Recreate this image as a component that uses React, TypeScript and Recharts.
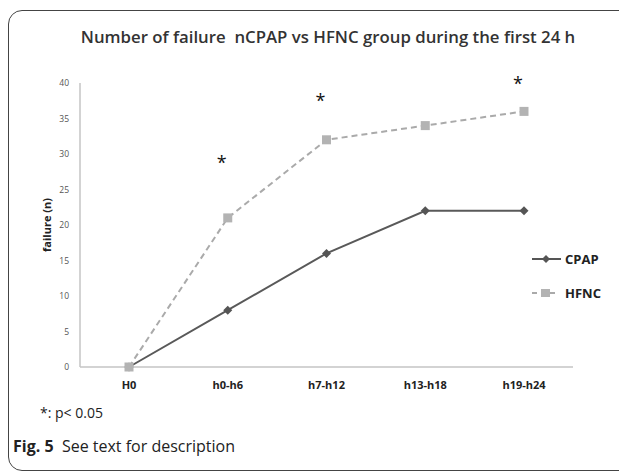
import React from 'react';
import { LineChart, Line, XAxis, YAxis } from 'recharts';

const periods = ['H0', 'h0-h6', 'h7-h12', 'h13-h18', 'h19-h24'];
const cpapFailures = [0, 8, 16, 22, 22];
const hfncFailures = [0, 21, 32, 34, 36];
// where the "*" (p < 0.05) marks sit, in axis units
const sigMarks: (number | null)[] = [null, 28.7, 37.5, null, 39.9];
const yTicks = [0, 5, 10, 15, 20, 25, 30, 35, 40];

const data = periods.map((p, i) => ({
  period: p,
  cpap: cpapFailures[i],
  hfnc: hfncFailures[i],
  sig: sigMarks[i],
}));

const FONT = '"Open Sans", "Liberation Sans", sans-serif';

const Diamond = (props: any) => {
  const { cx, cy, index } = props;
  if (cx == null || cy == null) return <g key={`d${index}`} />;
  const r = 4.5;
  return (
    <path
      key={`d${index}`}
      d={`M${cx},${cy - r}L${cx + r},${cy}L${cx},${cy + r}L${cx - r},${cy}Z`}
      fill="#555"
    />
  );
};

const Square = (props: any) => {
  const { cx, cy, index } = props;
  if (cx == null || cy == null) return <g key={`q${index}`} />;
  return <rect key={`q${index}`} x={cx - 4.5} y={cy - 4.5} width={9} height={9} fill="#b3b3b3" />;
};

const Star = (props: any) => {
  const { cx, cy, index, value } = props;
  if (value == null || cx == null || cy == null) return <g key={`s${index}`} />;
  return (
    <text key={`s${index}`} x={cx - 6} y={cy + 6} textAnchor="middle" fontSize={18} fill="#111" fontFamily={FONT}>
      *
    </text>
  );
};

const LegendBox = () => (
  <div style={{ position: 'absolute', left: 524, top: 240, fontFamily: FONT, fontWeight: 700, fontSize: 13, color: '#222' }}>
    <div style={{ display: 'flex', alignItems: 'center', height: 22 }}>
      <svg width={31} height={10}>
        <line x1={0} y1={5} x2={29} y2={5} stroke="#555" strokeWidth={2} />
        <path d="M14,1L18,5L14,9L10,5Z" fill="#555" />
      </svg>
      <span style={{ marginLeft: 2 }}>CPAP</span>
    </div>
    <div style={{ display: 'flex', alignItems: 'center', height: 22, marginTop: 12 }}>
      <svg width={31} height={10}>
        <line x1={0} y1={5} x2={27} y2={5} stroke="#aaa" strokeWidth={2} strokeDasharray="5 4" />
        <rect x={9} y={1} width={9} height={8} fill="#b3b3b3" />
      </svg>
      <span style={{ marginLeft: 2 }}>HFNC</span>
    </div>
  </div>
);

export default function App() {
  return (
    <div style={{ position: 'relative', width: 619, height: 464, overflow: 'hidden', background: '#fff' }}>
      <div
        style={{
          position: 'absolute',
          left: 0,
          top: 2,
          width: 700,
          height: 459,
          border: '1.5px solid #444',
          borderRadius: 14,
        }}
      />
      <div
        style={{
          position: 'absolute',
          left: 0,
          width: 640,
          top: 17,
          textAlign: 'center',
          fontFamily: FONT,
          fontWeight: 600,
          fontSize: 16.8,
          color: '#333',
        }}
      >
        Number of failure&nbsp; nCPAP vs HFNC group during the first 24 h
      </div>
      <div style={{ position: 'absolute', top: 0, left: 0 }}>
        <LineChart width={619} height={464} data={data} margin={{ top: 75, right: 54, bottom: 75, left: 32 }}>
          <XAxis
            dataKey="period"
            axisLine={{ stroke: '#c4c4c4', strokeWidth: 1.5 }}
            tickLine={false}
            tickMargin={8}
            height={30}
            padding={{ left: 49, right: 49 }}
            tick={{ fontSize: 11, fontWeight: 700, fill: '#222', fontFamily: FONT }}
          />
          <YAxis
            domain={[0, 40]}
            ticks={yTicks}
            interval={0}
            width={40}
            axisLine={{ stroke: '#c4c4c4', strokeWidth: 1.5 }}
            tickLine={false}
            tickMargin={5}
            tick={{ fontSize: 8.5, fill: '#555', fontFamily: FONT }}
            label={{
              value: 'failure (n)',
              angle: -90,
              position: 'insideLeft',
              offset: 0,
              dx: 7,
              style: { fontSize: 11, fontWeight: 700, fill: '#222', fontFamily: FONT, textAnchor: 'middle' },
            }}
          />
          <Line
            dataKey="cpap"
            stroke="#595959"
            strokeWidth={2}
            dot={Diamond}
            activeDot={false}
            isAnimationActive={false}
          />
          <Line
            dataKey="hfnc"
            stroke="#aaa"
            strokeWidth={2}
            strokeDasharray="6 4"
            dot={Square}
            activeDot={false}
            isAnimationActive={false}
          />
          <Line
            dataKey="sig"
            stroke="none"
            dot={Star}
            activeDot={false}
            legendType="none"
            isAnimationActive={false}
          />
        </LineChart>
      </div>
      <LegendBox />
      <div style={{ position: 'absolute', left: 32, top: 395, fontFamily: FONT, fontSize: 14, color: '#222' }}>
        *: p&lt; 0.05
      </div>
      <div style={{ position: 'absolute', left: 5, top: 427, fontFamily: FONT, fontSize: 16, color: '#222' }}>
        <span style={{ fontWeight: 700 }}>Fig. 5</span>&nbsp; See text for description
      </div>
    </div>
  );
}
